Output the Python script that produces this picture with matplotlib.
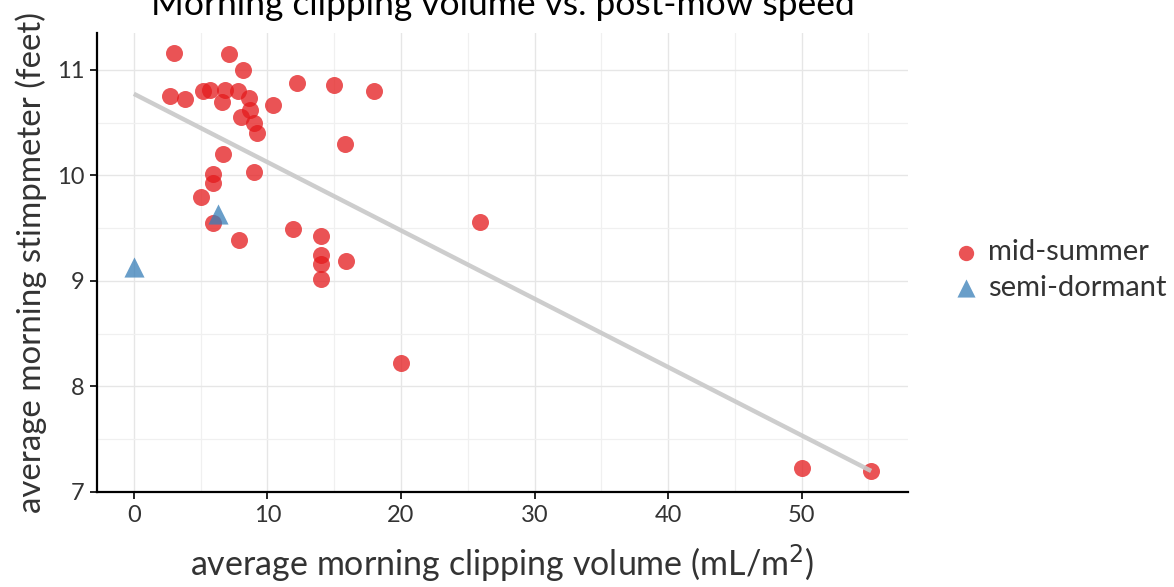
import numpy as np
import matplotlib
matplotlib.use("Agg")
import matplotlib.pyplot as plt
from matplotlib.ticker import MultipleLocator

plt.rcParams['font.family'] = ['Lato', 'DejaVu Sans']

# ---- data ----
summer_x = [3.0, 7.1, 8.2, 12.2, 15.0, 18.0, 2.7, 3.8, 5.2, 5.7, 6.8, 6.6, 7.8,
            8.6, 8.7, 8.0, 9.0, 9.2, 10.4, 15.8, 6.7, 5.9, 5.9, 9.0, 5.0, 5.9,
            7.9, 11.9, 14.0, 14.0, 14.0, 14.0, 15.9, 25.9, 20.0, 50.0, 55.2]
summer_y = [11.16, 11.15, 11.00, 10.88, 10.86, 10.80, 10.75, 10.72, 10.80, 10.81,
            10.81, 10.70, 10.80, 10.73, 10.62, 10.55, 10.50, 10.40, 10.67, 10.30,
            10.20, 10.01, 9.93, 10.03, 9.80, 9.55, 9.39, 9.49, 9.43, 9.25, 9.16,
            9.02, 9.19, 9.56, 8.22, 7.23, 7.20]
dormant_x = [0.0, 6.3]
dormant_y = [9.13, 9.63]
groups = ["mid-summer", "semi-dormant"]
title = "Morning clipping volume vs. post-mow speed"
xlabel = "average morning clipping volume (mL/m$^2$)"
ylabel = "average morning stimpmeter (feet)"

fig = plt.figure(figsize=(11.74, 5.87), dpi=100)
ax = fig.add_axes([97/1174, 1-492/587, (908-97)/1174, (492-33)/587])

# regression over all data
all_x = np.array(summer_x + dormant_x)
all_y = np.array(summer_y + dormant_y)
slope, intercept = np.polyfit(all_x, all_y, 1)
xs = np.array([all_x.min(), all_x.max()])

ax.scatter(summer_x, summer_y, s=150, marker='o', color='#E41A1C', alpha=0.75,
           linewidths=0, label=groups[0], zorder=3)
ax.scatter(dormant_x, dormant_y, s=210, marker='^', color='#377EB8', alpha=0.75,
           linewidths=0, label=groups[1], zorder=3)
ax.plot(xs, intercept + slope * xs, color='#c8c8c8', lw=3.2, alpha=0.9,
        solid_capstyle='butt', zorder=4)

ax.set_xlim(-2.76, 57.96)
ax.set_ylim(7.0, 11.35)
ax.xaxis.set_major_locator(MultipleLocator(10))
ax.xaxis.set_minor_locator(MultipleLocator(5))
ax.yaxis.set_major_locator(MultipleLocator(1))
ax.yaxis.set_minor_locator(MultipleLocator(0.5))
ax.grid(which='major', color='#e6e6e6', lw=1.0)
ax.grid(which='minor', color='#f0f0f0', lw=0.9)
ax.set_axisbelow(True)
for s in ['top', 'right']:
    ax.spines[s].set_visible(False)
for s in ['left', 'bottom']:
    ax.spines[s].set_linewidth(1.6)
    ax.spines[s].set_color('black')
ax.tick_params(which='major', length=5, width=1.2, color='black',
               labelsize=17, labelcolor='#333333', pad=4)
ax.tick_params(which='minor', length=0)

ax.set_xlabel(xlabel, fontsize=24.5, color='#333333', labelpad=12)
ax.set_ylabel(ylabel, fontsize=23.8, color='#333333', labelpad=7)
ax.set_title(title, fontsize=25.5, pad=13)

leg = ax.legend(loc='center left', bbox_to_anchor=(1.036, 0.483), frameon=False,
                fontsize=21, handlelength=1.2, handletextpad=0.15,
                labelspacing=0.33, markerscale=0.9, borderaxespad=0)
for t in leg.get_texts():
    t.set_color('#333333')

fig.savefig("out.png", dpi=100)
